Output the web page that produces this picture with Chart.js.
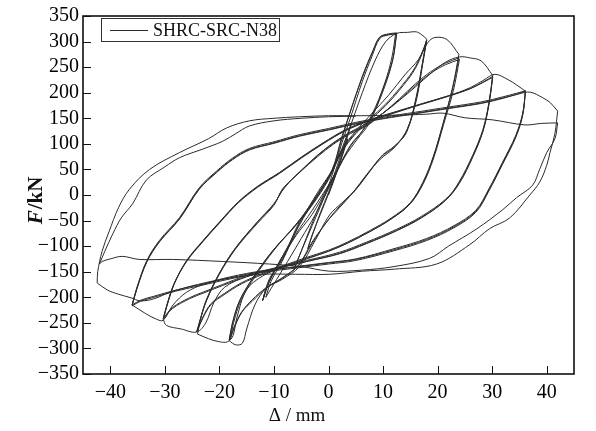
<!DOCTYPE html>
<html>
<head>
<meta charset="utf-8">
<script src="https://cdn.jsdelivr.net/npm/chart.js@4.4.1/dist/chart.umd.min.js"></script>
<style>
  html, body { margin: 0; padding: 0; background: #fff; }
  #wrap { width: 596px; height: 431px; }
</style>
</head>
<body>
<div id="wrap"><canvas id="c" width="596" height="431"></canvas></div>
<script>
// Specimen and axes
const seriesName = 'SHRC-SRC-N38';
const xTicks = [-40, -30, -20, -10, 0, 10, 20, 30, 40];
const yTicks = [-350, -300, -250, -200, -150, -100, -50, 0, 50, 100, 150, 200, 250, 300, 350];

// Load–displacement record [Δ (mm), F (kN)], one continuous path grouped by amplitude level
const initialCycles = [
  [0, 0], [1.2, 35], [2.5, 75], [3.5, 110],
  [2.8, 88], [1.5, 48], [0, 5], [-1.5, -35], [-3, -80], [-3.8, -105],
  [-3, -78], [-1.5, -38], [0, 2], [1.5, 45], [3, 98], [4.2, 140],
  [3.5, 118], [2, 70], [0.5, 25], [-1, -5], [-3, -55], [-5, -110], [-6.3, -145]
];
const cycles12 = [
  [-5, -110], [-3, -60], [-1, -10], [0.7, 40], [2.4, 100], [4, 150], [6.2, 222], [8, 272], [9.4, 306], [11, 313], [12.3, 315],
  [11.6, 268], [10.2, 215], [8, 158], [6, 122], [4, 95], [2, 55], [0, 12], [-2.5, -40], [-5, -85], [-7.5, -130], [-9.5, -165], [-11.5, -200],
  [-10.5, -168], [-8.5, -130], [-5.5, -62], [-2, 0], [0.7, 48], [2.4, 108], [4, 163], [6.2, 230], [8.2, 282], [9.4, 308], [11, 314], [12.5, 316],
  [11.8, 265], [10.3, 212], [8.2, 158], [6.2, 125], [4.2, 100], [2.2, 62], [0, 18], [-3, -38], [-6, -80], [-9.5, -143], [-11.3, -180], [-12.1, -207],
  [-10.8, -163], [-8.4, -125], [-5.3, -52], [-1.7, 6], [0.7, 50], [2.4, 112], [3.9, 160], [6.2, 232], [8.2, 284], [9.4, 309], [11, 315], [12.5, 317],
  [11.7, 262], [9.9, 205], [7.5, 141], [5.2, 108], [3, 75], [0.5, 28], [-3, -30], [-6, -77], [-9.5, -140], [-11.5, -185], [-12, -205]
];
const cycles18 = [
  [-10.5, -160], [-8, -112], [-5, -50], [-2, 5], [1, 55], [3.5, 120], [6.2, 200], [8.5, 262], [10.5, 300], [12.5, 316], [14.5, 318], [16.1, 319], [17, 314], [18, 305],
  [17.2, 257], [16.1, 193], [14.3, 122], [12, 95], [9.9, 78], [7.5, 45], [5.1, 12], [2.5, -15], [0.2, -39], [-2.5, -90], [-5.3, -140], [-8.5, -165], [-11.4, -182], [-13.5, -215], [-15, -262], [-15.8, -290], [-17, -293], [-18.2, -285],
  [-17.6, -251], [-16.3, -207], [-13.9, -163], [-10.3, -110], [-6, -60], [-3, -20], [0, 30], [2.5, 85], [5, 120], [7.5, 145], [10.5, 175], [13, 205], [15.5, 240], [17, 272], [18, 303],
  [17.2, 255], [16.1, 190], [14.3, 125], [12, 92], [9.5, 70], [7, 40], [4.5, 5], [2, -25], [-0.5, -55], [-3, -95], [-5.5, -138], [-8.5, -163], [-11.4, -182], [-14, -208], [-15.8, -228], [-17.2, -258], [-18, -282],
  [-17.4, -250], [-16, -205], [-13.5, -160], [-10, -108], [-6, -58], [-3, -18], [0, 32], [2.5, 88], [5, 122], [7.5, 148], [10.5, 178], [13, 208], [15.5, 243], [17, 275], [18, 302],
  [17.2, 252], [16.2, 190], [14.5, 130], [12.2, 95], [9.7, 75], [7.2, 42], [4.8, 8], [2.2, -20], [0, -48], [-3, -92], [-5.5, -137], [-8.5, -162], [-11.4, -181], [-14, -205], [-16, -230], [-17.3, -258], [-18.2, -283]
];
const cycles24 = [
  [-17.6, -250], [-16.3, -207], [-13.9, -163], [-10.3, -110], [-6, -58], [-3, -15], [0, 35], [2.5, 90], [5, 125], [8, 160], [11, 195], [14, 235], [16.5, 265], [18.2, 298], [19.5, 308], [21.7, 304], [23.9, 275],
  [22.8, 213], [20.9, 135], [19.1, 70], [17.2, 20], [14.7, -20], [11, -50], [7, -75], [3.3, -95], [0, -110], [-4, -125], [-8, -140], [-12, -158], [-15, -185], [-16.8, -240], [-17.5, -275], [-18.5, -287], [-20, -287], [-22, -281], [-24, -272],
  [-23.5, -245], [-22.4, -207], [-20, -155], [-17, -105], [-13, -55], [-10, -20], [-8.4, 12], [-5.3, 44], [-2, 75], [1, 100], [4, 120], [7, 135], [10, 160], [13, 188], [16, 218], [19, 243], [21.5, 258], [23.9, 268],
  [22.8, 210], [21, 140], [19.2, 75], [17.3, 25], [15, -15], [11.5, -45], [7.5, -70], [3.5, -92], [0, -108], [-4, -122], [-8, -137], [-12, -153], [-16, -172], [-19, -192], [-21.5, -212], [-23, -238], [-24, -265],
  [-23.5, -243], [-22.3, -205], [-20, -153], [-17, -103], [-13, -53], [-10, -18], [-8.2, 14], [-5.2, 46], [-2, 77], [1, 102], [4, 122], [7, 137], [10, 160], [13, 186], [16, 215], [19, 240], [21.5, 255], [24, 265],
  [22.9, 205], [21.1, 138], [19.3, 73], [17.4, 23], [15, -17], [11.5, -47], [7.5, -72], [3.5, -94], [0, -110], [-4, -124], [-8, -139], [-12, -155], [-16, -174], [-19, -194], [-21.5, -214], [-23, -240], [-24.2, -268]
];
const cycles30 = [
  [-23.5, -243], [-22.4, -205], [-20, -153], [-17, -103], [-13, -52], [-10, -17], [-8, 15], [-5, 48], [-2, 78], [1, 103], [4, 123], [7, 140], [10, 160], [13, 185], [16, 212], [19, 240], [21.5, 260], [24, 270], [26, 268], [28, 262], [30.1, 234],
  [29.4, 180], [28.3, 128], [26.4, 77], [23.9, 25], [21.5, -10], [17, -45], [12.5, -70], [7, -95], [2, -115], [-4, -130], [-10, -145], [-15, -160], [-19, -180], [-21, -210], [-22.5, -250], [-24.2, -268], [-27, -262], [-29.7, -255], [-30.3, -243],
  [-29.6, -215], [-28.3, -174], [-26, -130], [-23, -91], [-20, -55], [-16.5, -15], [-13, 15], [-9, 42], [-5, 72], [-1, 100], [3, 125], [7, 143], [12, 160], [17, 177], [22, 193], [26, 208], [28.5, 222], [30.1, 232],
  [29.4, 178], [28.3, 125], [26.4, 75], [24, 25], [21.5, -8], [17, -42], [12.5, -67], [7, -92], [2, -112], [-4, -128], [-10, -143], [-15, -157], [-19.4, -175], [-23, -190], [-25.5, -201], [-28.6, -220], [-30.2, -240],
  [-29.5, -213], [-28.2, -172], [-26, -128], [-23, -89], [-20, -53], [-16.5, -13], [-13, 17], [-9, 44], [-5, 74], [-1, 102], [3, 127], [7, 145], [12, 162], [17, 178], [22, 194], [26, 208], [28.5, 221], [30.1, 230],
  [29.4, 176], [28.3, 124], [26.4, 73], [24, 23], [21.5, -10], [17, -44], [12.5, -69], [7, -94], [2, -114], [-4, -130], [-10, -145], [-15, -159], [-19.4, -177], [-23, -192], [-25.5, -203], [-28.6, -222], [-30.3, -242]
];
const cycles36 = [
  [-29.6, -214], [-28.3, -173], [-26, -129], [-23, -90], [-20, -54], [-16.5, -14], [-13, 16], [-9, 43], [-5, 73], [-1, 101], [3, 126], [7, 144], [12, 161], [17, 178], [22, 194], [26, 210], [28.5, 225], [30.5, 236], [33, 225], [34.5, 215], [36.1, 203],
  [35.6, 160], [34.3, 116], [31.9, 64], [29.4, 12], [27, -30], [23, -60], [18, -85], [12, -105], [5, -125], [0, -132], [-6, -140], [-12, -148], [-18, -160], [-23, -175], [-26, -190], [-28.5, -215], [-30.3, -245], [-31.5, -243], [-33.5, -232], [-36, -215],
  [-35.1, -182], [-33.3, -130], [-31, -91], [-27.3, -46], [-23.7, 12], [-20.5, 45], [-17.6, 70], [-14.5, 89], [-10, 102], [-5.3, 116], [0, 128], [5, 140], [10, 150], [16, 160], [22, 170], [28, 180], [32, 190], [34.5, 197], [36.1, 203],
  [35.6, 158], [34.3, 114], [31.9, 62], [29.4, 10], [27, -32], [23, -62], [18, -87], [12, -107], [5, -126], [0, -133], [-6, -141], [-12, -149], [-18, -162], [-23, -174], [-28, -186], [-32, -198], [-34.5, -206], [-36, -215],
  [-35.1, -180], [-33.3, -128], [-31, -89], [-27.3, -44], [-23.7, 14], [-20.5, 47], [-17.6, 72], [-14.5, 91], [-10, 104], [-5.3, 118], [0, 130], [5, 142], [10, 152], [16, 162], [22, 172], [28, 182], [32, 192], [34.5, 199], [36.1, 204],
  [35.6, 156], [34.3, 112], [31.9, 60], [29.4, 8], [27, -34], [23, -64], [18, -89], [12, -109], [5, -128], [0, -135], [-6, -143], [-12, -151], [-18, -164], [-23, -176], [-28, -188], [-32, -200], [-34.5, -208], [-36, -217]
];
const cycles42 = [
  [-35.1, -183], [-33.3, -131], [-31, -92], [-27.3, -47], [-23.7, 11], [-20.5, 44], [-17.6, 69], [-14.5, 88], [-10, 101], [-5.3, 115], [0, 127], [5, 139], [10, 149], [16, 159], [22, 169], [28, 179], [32, 189], [35, 198], [37, 201], [39.3, 190], [40.7, 180], [42, 164],
  [41.5, 120], [40.6, 83], [40, 58], [38.7, 25], [36.9, 0], [33.2, -45], [29.5, -66], [25.9, -97], [19.8, -135], [12, -145], [6.2, -149], [0.2, -155], [-6, -155], [-12, -155], [-18, -162], [-24, -175], [-29, -190], [-32, -203], [-34.5, -207], [-36.2, -201], [-38.5, -194], [-40.5, -186], [-42.4, -172],
  [-42.3, -150], [-41.5, -110], [-40.2, -71], [-38.5, -25], [-36.5, 11], [-32.8, 50], [-27.3, 83], [-22, 110], [-18.7, 131], [-14.5, 145], [-10, 150], [-5.3, 153], [0, 155], [6, 155], [12, 156], [18, 158], [21, 160], [25, 151], [30, 147], [36, 137], [39, 140], [42, 141],
  [41.5, 110], [40, 83], [38.7, 50], [37.4, 19], [34.5, -5], [31.9, -29], [27.2, -66], [22, -100], [18.5, -124], [12, -140], [6, -147], [0.2, -149], [-5, -140], [-10.8, -135], [-19.4, -130], [-28.6, -126], [-34.7, -126], [-37.8, -120], [-40, -125], [-41.5, -130], [-42, -135],
  [-41, -110], [-39.5, -75], [-38, -45], [-35.9, -17], [-33.4, 29], [-30, 55], [-27.3, 73], [-23, 90], [-19.4, 105], [-17, 120], [-14.5, 135], [-10, 145], [-5, 150], [0, 153], [5, 154]
];

const record = [].concat(initialCycles, cycles12, cycles18, cycles24, cycles30, cycles36, cycles42);

// Split the record into loading branches wherever the displacement reverses,
// so each branch is smoothed on its own and the reversal points stay sharp.
function splitBranches(pts) {
  const out = [];
  let cur = [pts[0]], dir = 0;
  for (let i = 1; i < pts.length; i++) {
    const d = Math.sign(pts[i][0] - pts[i - 1][0]);
    if (dir !== 0 && d !== 0 && d !== dir) {
      out.push(cur);
      cur = [pts[i - 1]];
    }
    if (d !== 0) dir = d;
    cur.push(pts[i]);
  }
  out.push(cur);
  return out;
}

const LINE = '#2b2b2b';
const SERIF = '"Liberation Serif", "DejaVu Serif", serif';
const fmt = v => (v < 0 ? '\u2212' + Math.abs(v) : String(v));

const datasets = splitBranches(record).map((b, i) => ({
  label: i === 0 ? seriesName : '',
  data: b.map(([x, y]) => ({ x, y })),
  showLine: true,
  pointRadius: 0,
  borderColor: LINE,
  borderWidth: 1,
  tension: 0.35,
  fill: false
}));

// Frame, inward tick marks, axis titles and the legend box
const decor = {
  id: 'decor',
  afterDraw(chart) {
    const { ctx, chartArea: a, scales } = chart;
    const xs = scales.x, ys = scales.y;
    ctx.save();
    ctx.strokeStyle = '#111';
    ctx.lineWidth = 1;
    ctx.beginPath();
    xTicks.forEach(v => {
      const px = Math.round(xs.getPixelForValue(v)) + 0.5;
      ctx.moveTo(px, a.bottom); ctx.lineTo(px, a.bottom - 8);
    });
    yTicks.forEach(v => {
      const py = Math.round(ys.getPixelForValue(v)) + 0.5;
      ctx.moveTo(a.left, py); ctx.lineTo(a.left + 8, py);
    });
    ctx.stroke();

    ctx.lineWidth = 1.6;
    ctx.strokeRect(a.left, a.top, a.right - a.left, a.bottom - a.top);

    // y title: italic F, upright /kN
    ctx.fillStyle = '#111';
    ctx.translate(42, (a.top + a.bottom) / 2 + 6);
    ctx.rotate(-Math.PI / 2);
    ctx.textBaseline = 'alphabetic';
    const f1 = 'italic bold 21px ' + SERIF, f2 = 'bold 21px ' + SERIF;
    ctx.font = f1; const w1 = ctx.measureText('F').width;
    ctx.font = f2; const w2 = ctx.measureText('/kN').width;
    const x0 = -(w1 + w2) / 2;
    ctx.font = f1; ctx.textAlign = 'left'; ctx.fillText('F', x0, 0);
    ctx.font = f2; ctx.fillText('/kN', x0 + w1 + 1, 0);
    ctx.setTransform(1, 0, 0, 1, 0, 0);

    // x title
    ctx.font = '19px ' + SERIF;
    ctx.textAlign = 'center';
    ctx.textBaseline = 'alphabetic';
    ctx.fillText('\u0394 / mm', 297, 421);

    // legend
    const lx = 101.5, ly = 18.5, lw = 178, lh = 23;
    ctx.lineWidth = 1;
    ctx.strokeStyle = '#333';
    ctx.fillStyle = '#fff';
    ctx.fillRect(lx, ly, lw, lh);
    ctx.strokeRect(lx, ly, lw, lh);
    ctx.strokeStyle = LINE;
    ctx.beginPath();
    ctx.moveTo(110, 30.5); ctx.lineTo(148, 30.5);
    ctx.stroke();
    ctx.fillStyle = '#111';
    ctx.font = '18px ' + SERIF;
    ctx.textAlign = 'left';
    ctx.textBaseline = 'middle';
    ctx.fillText(chart.data.datasets[0].label, 153, 31);
    ctx.restore();
  }
};

new Chart(document.getElementById('c'), {
  type: 'scatter',
  data: { datasets },
  options: {
    responsive: false,
    animation: false,
    devicePixelRatio: 1,
    layout: { padding: { top: 12, right: 22, left: 0, bottom: 0 } },
    plugins: { legend: { display: false }, tooltip: { enabled: false } },
    scales: {
      x: {
        type: 'linear', min: -45, max: 45,
        afterBuildTicks: s => { s.ticks = xTicks.map(v => ({ value: v })); },
        afterFit: s => { s.height = 57; },
        grid: { display: false, drawTicks: false },
        border: { display: false },
        ticks: { color: '#000', autoSkip: false, font: { family: SERIF, size: 20 }, padding: 7, maxRotation: 0, callback: v => fmt(v) }
      },
      y: {
        type: 'linear', min: -350, max: 350,
        afterBuildTicks: s => { s.ticks = yTicks.map(v => ({ value: v })); },
        afterFit: s => { s.width = 83; },
        grid: { display: false, drawTicks: false },
        border: { display: false },
        ticks: { color: '#000', autoSkip: false, font: { family: SERIF, size: 20 }, padding: 4, callback: v => fmt(v) }
      }
    }
  },
  plugins: [decor]
});
</script>
</body>
</html>
